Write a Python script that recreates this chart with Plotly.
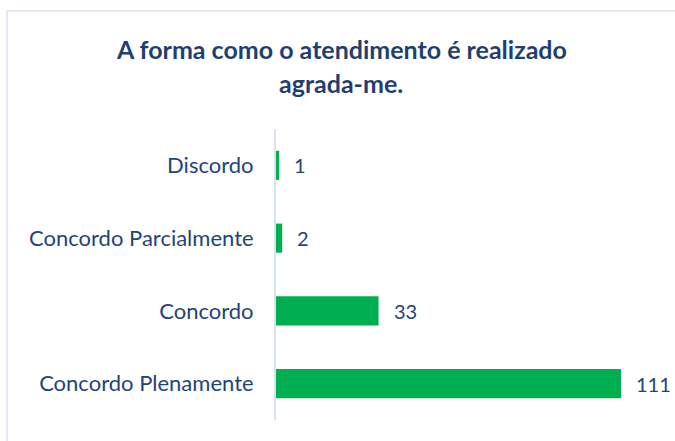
import plotly.graph_objects as go

categories = ["Concordo Plenamente", "Concordo", "Concordo Parcialmente", "Discordo"]
values = [111, 33, 2, 1]
title_lines = ["A forma como o atendimento é realizado", "agrada-me."]

W, H = 675, 441
L, R, T, B = 276, 10, 129, 21
pw, ph = W - L - R, H - T - B

def px(x):
    return (x - L) / pw

def py(y):
    return (H - B - y) / ph

label_color = "#1F4479"
title_color = "#1F3F73"
font_family = "Lato"

fig = go.Figure(go.Bar(
    x=values, y=categories, orientation="h",
    marker=dict(color="#00B050", line=dict(width=0)),
    width=0.4, hoverinfo="skip",
))

annotations = []
for v, c in zip(values, categories):
    annotations.append(dict(x=v, y=c, xref="x", yref="y", text=str(v), showarrow=False,
                            xanchor="left", yanchor="middle", xshift=13,
                            font=dict(family=font_family, size=20, color=label_color)))
annotations.append(dict(x=px(341), y=py(49), xref="paper", yref="paper", text="<b>" + title_lines[0] + "</b>",
                        showarrow=False, xanchor="center", yanchor="middle",
                        font=dict(family=font_family, size=25, color=title_color)))
annotations.append(dict(x=px(341), y=py(83), xref="paper", yref="paper", text="<b>" + title_lines[1] + "</b>",
                        showarrow=False, xanchor="center", yanchor="middle",
                        font=dict(family=font_family, size=25, color=title_color)))

fig.update_layout(
    width=W, height=H,
    margin=dict(l=L, r=R, t=T, b=B, pad=0),
    plot_bgcolor="white", paper_bgcolor="white",
    showlegend=False,
    annotations=annotations,
    shapes=[dict(type="rect", xref="paper", yref="paper",
                 x0=px(7), x1=px(700), y0=py(470), y1=py(11),
                 line=dict(color="#D9E2F1", width=1.5), fillcolor="rgba(0,0,0,0)", layer="below")],
    xaxis=dict(range=[0, pw / 3.108], showgrid=False, zeroline=False, showticklabels=False,
               showline=False, fixedrange=True),
    yaxis=dict(range=[-0.5, 3.5], showgrid=False, zeroline=False, showline=True,
               linecolor="#D9E2F1", linewidth=2, ticks="", ticklabelstandoff=16,
               tickfont=dict(family=font_family, size=22, color=label_color), fixedrange=True),
)

fig.write_html("out.html", config={"displayModeBar": False, "staticPlot": True},
               post_script="document.body.style.margin='0';document.body.style.overflow='hidden';")
